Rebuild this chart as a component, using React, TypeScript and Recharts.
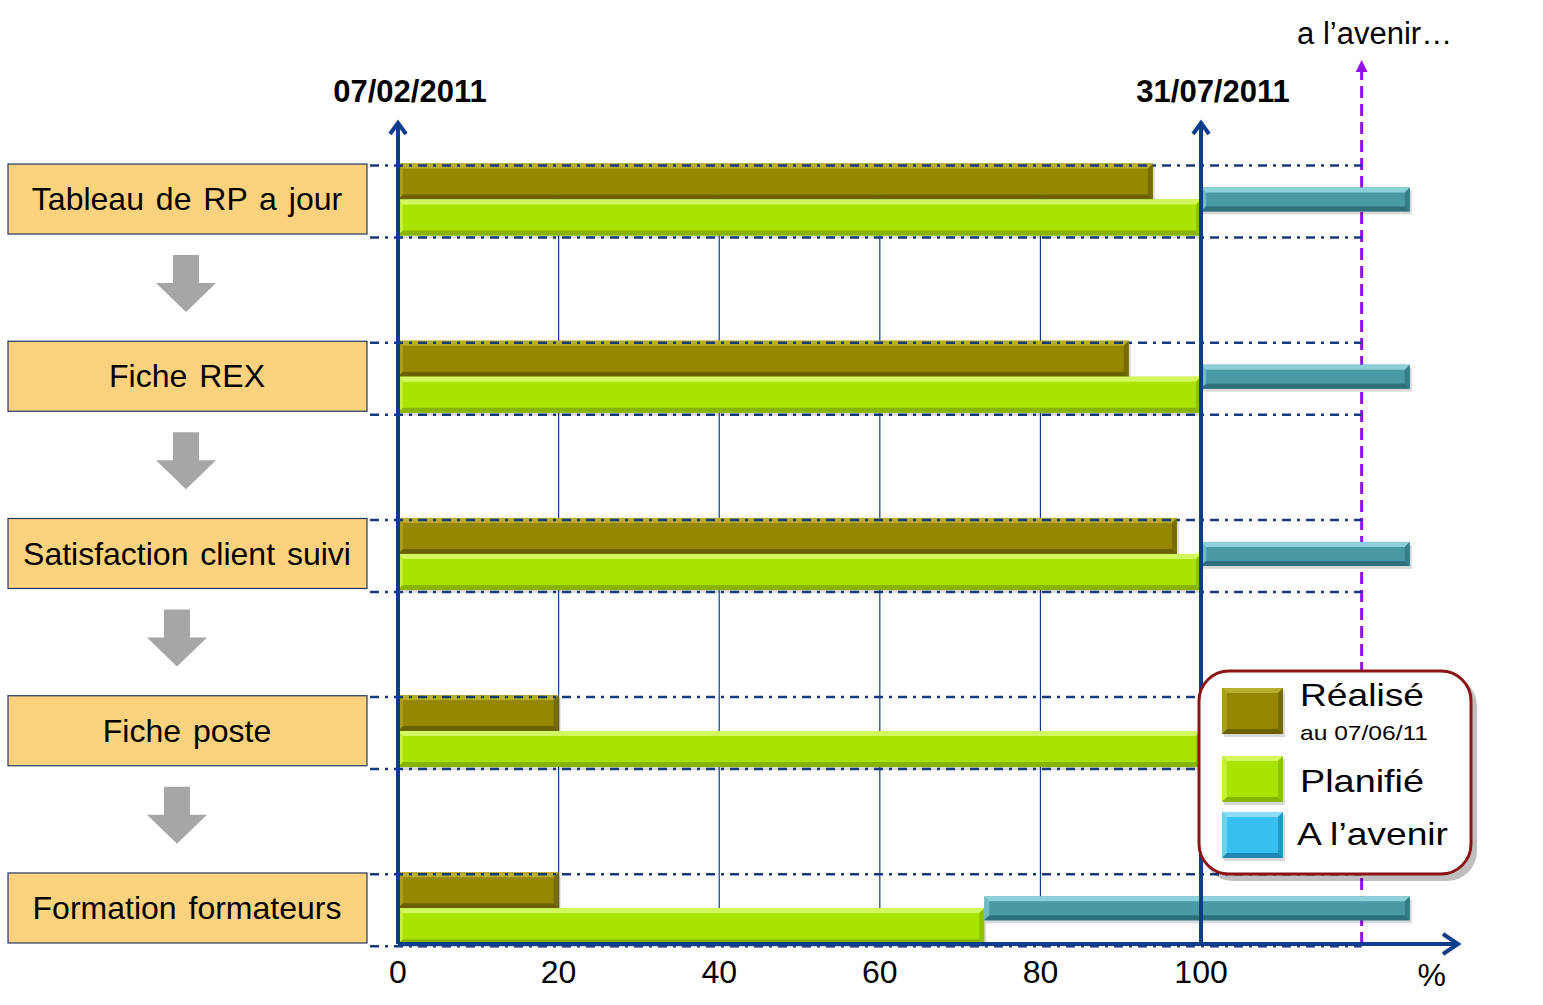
import React from 'react';
import { BarChart, Bar, XAxis, YAxis, ReferenceLine } from 'recharts';

const tasks = [
  'Tableau de RP a jour',
  'Fiche REX',
  'Satisfaction client suivi',
  'Fiche poste',
  'Formation formateurs',
];
const realise = [94, 91, 97, 20, 20]; // % done at 07/06/11
const planifie = [100, 100, 100, 100, 73];
const avenir = [26, 26, 26, 26, 53];

const xTicks = [0, 20, 40, 60, 80, 100];
const gridTicks = [20, 40, 60, 80];
const startDate = '07/02/2011';
const endDate = '31/07/2011';
const futureMark = 120;
const futureLabel = 'a l’avenir…';

const legendNames = ['Réalisé', 'Planifié', 'A l’avenir'];
const legendNote = 'au 07/06/11';

const FONT = '"Liberation Sans", Arial, sans-serif';
const AXIS = '#0F3D8E';
const DASH = '#17397C';
const PURPLE = '#9312F0';

const OLIVE = { face: '#958800', light: '#B9AD2E', dark: '#6A6100' };
const LIME = { face: '#A9E300', light: '#D2F760', dark: '#86B400' };
const TEAL = { face: '#4A9AA5', light: '#8CD0D9', dark: '#2E717C' };
const SKY = { face: '#37BFF0', light: '#8FDCF8', dark: '#1F86B5' };
const legendColors = [OLIVE, LIME, SKY];

const data = tasks.map((task, i) => ({
  task,
  realise: realise[i],
  planifie: planifie[i],
  avenir: avenir[i],
}));

function bevel(c: any, x: number, y: number, w: number, h: number) {
  if (!(w > 0) || !(h > 0)) return null;
  const b = Math.min(5, h / 4, w / 2);
  return (
    <g>
      <rect x={x + 2} y={y + 3} width={w} height={h} fill="rgba(0,0,0,0.15)" />
      <rect x={x} y={y} width={w} height={h} fill={c.face} />
      <polygon points={`${x},${y} ${x + w},${y} ${x + w - b},${y + b} ${x + b},${y + b}`} fill={c.light} />
      <polygon points={`${x},${y} ${x + b},${y + b} ${x + b},${y + h - b} ${x},${y + h}`} fill={c.light} opacity={0.6} />
      <polygon
        points={`${x},${y + h} ${x + w},${y + h} ${x + w - b},${y + h - b} ${x + b},${y + h - b}`}
        fill={c.dark}
      />
      <polygon
        points={`${x + w},${y} ${x + w},${y + h} ${x + w - b},${y + h - b} ${x + w - b},${y + b}`}
        fill={c.dark}
        opacity={0.7}
      />
    </g>
  );
}

// row guide lines run from a bit left of 0 up to the "future" mark
function rowLine(x: number, unit: number, y: number) {
  return (
    <line
      x1={x - 28}
      y1={y}
      x2={x + unit * futureMark}
      y2={y}
      stroke={DASH}
      strokeWidth={2.5}
      strokeDasharray="9 6 3 6"
    />
  );
}

const RealiseShape = (p: any) => {
  const { x, y, width, height, payload } = p;
  const unit = width / payload.realise;
  return (
    <g>
      {bevel(OLIVE, x, y, width, height)}
      {rowLine(x, unit, y + 2)}
    </g>
  );
};

const PlanifieShape = (p: any) => {
  const { x, y, width, height, payload } = p;
  const unit = width / payload.planifie;
  return (
    <g>
      {bevel(LIME, x, y, width, height)}
      {rowLine(x, unit, y + height + 2)}
    </g>
  );
};

const AvenirShape = (p: any) => {
  const { x, y, width, height } = p;
  return bevel(TEAL, x, y - height / 3, width, (height * 2) / 3);
};

const TaskTick = (p: any) => {
  const { y, payload, index } = p;
  const ax = index < 2 ? 186 : 177;
  const ay = y + 84;
  return (
    <g>
      <rect x={8} y={y - 35} width={359} height={70} fill="#FDD27F" stroke="#1F3864" strokeWidth={1.2} />
      <text x={187} y={y + 11} textAnchor="middle" fontSize={32} fill="#000" wordSpacing={3}>
        {payload.value}
      </text>
      {index < tasks.length - 1 && (
        <polygon
          points={`${ax - 13},${ay - 28} ${ax + 13},${ay - 28} ${ax + 13},${ay} ${ax + 30},${ay} ${ax},${ay + 29} ${ax - 30},${ay} ${ax - 13},${ay}`}
          fill="#A6A6A6"
        />
      )}
    </g>
  );
};

const dateAxis = (text: string) => (p: any) => {
  const top = Math.min(p.y1, p.y2);
  const bottom = Math.max(p.y1, p.y2);
  const x = p.x1;
  return (
    <g>
      <line x1={x} y1={top + 3} x2={x} y2={bottom} stroke={AXIS} strokeWidth={4} />
      <polyline
        points={`${x - 8},${top + 14} ${x},${top + 3} ${x + 8},${top + 14}`}
        fill="none"
        stroke={AXIS}
        strokeWidth={4}
      />
      <text x={x + 12} y={top - 18} textAnchor="middle" fontSize={31} fontWeight="bold" fill="#000">
        {text}
      </text>
    </g>
  );
};

const FutureLine = (p: any) => {
  const top = Math.min(p.y1, p.y2) - 60;
  const bottom = Math.max(p.y1, p.y2);
  const x = p.x1;
  return (
    <g>
      <line x1={x} y1={bottom} x2={x} y2={top + 10} stroke={PURPLE} strokeWidth={3} strokeDasharray="12 6" />
      <polygon points={`${x - 6},${top + 12} ${x},${top} ${x + 6},${top + 12}`} fill={PURPLE} />
      <text x={x + 13} y={top - 16} textAnchor="middle" fontSize={31} fill="#000">
        {futureLabel}
      </text>
    </g>
  );
};

function LegendBox() {
  const tops = [688, 756, 812];
  const labelY = [706, 792, 845];
  const labelX = [1300, 1300, 1297];
  const labelW = [124, 124, 151];
  return (
    <svg
      width={1543}
      height={1005}
      style={{ position: 'absolute', left: 0, top: 0, pointerEvents: 'none', fontFamily: FONT }}
    >
      <rect x={1203} y={676} width={274} height={205} rx={30} fill="rgba(0,0,0,0.25)" />
      <rect x={1199} y={671} width={272} height={203} rx={30} fill="#fff" stroke="#8C1414" strokeWidth={3} />
      {legendNames.map((name, i) => (
        <g key={name}>
          {bevel(legendColors[i], 1222, tops[i], 61, 46)}
          <text
            x={labelX[i]}
            y={labelY[i]}
            fontSize={32}
            fill="#000"
            textLength={labelW[i]}
            lengthAdjust="spacingAndGlyphs"
          >
            {name}
          </text>
        </g>
      ))}
      <text x={1300} y={740} fontSize={21} fill="#000" textLength={128} lengthAdjust="spacingAndGlyphs">
        {legendNote}
      </text>
    </svg>
  );
}

export default function App() {
  return (
    <div style={{ position: 'absolute', left: 0, top: 0, width: 1543, height: 1005, fontFamily: FONT, background: '#fff' }}>
      <BarChart
        width={1543}
        height={1005}
        data={data}
        layout="vertical"
        margin={{ top: 120, right: 85, bottom: 0, left: 0 }}
        barGap={0}
      >
        <defs>
          <marker
            id="xArrow"
            markerUnits="userSpaceOnUse"
            markerWidth={22}
            markerHeight={26}
            refX={18}
            refY={13}
            orient="auto"
          >
            <polyline points="3,3 18,13 3,23" fill="none" stroke={AXIS} strokeWidth={4} />
          </marker>
        </defs>
        <XAxis
          type="number"
          domain={[0, 132]}
          ticks={xTicks}
          interval={0}
          height={61}
          tickLine={false}
          tickMargin={10}
          tick={{ fill: '#000', fontSize: 32 }}
          axisLine={{ stroke: AXIS, strokeWidth: 4, markerEnd: 'url(#xArrow)' } as any}
          label={{ value: '%', position: 'insideRight', offset: 12, fontSize: 32, fill: '#000' }}
        />
        <YAxis
          type="category"
          dataKey="task"
          width={398}
          axisLine={false}
          tickLine={false}
          tick={<TaskTick />}
          interval={0}
          padding={{ top: -9.6, bottom: -52.6 } as any}
        />
        {gridTicks.map((t) => (
          <ReferenceLine
            key={t}
            segment={[
              { x: t, y: tasks[0] },
              { x: t, y: tasks[tasks.length - 1] },
            ]}
            stroke={AXIS}
            strokeWidth={1.2}
            ifOverflow="visible"
            {...({ zIndex: -100 } as any)}
          />
        ))}
        <ReferenceLine
          x={futureMark}
          ifOverflow="visible"
          shape={FutureLine}
          {...({ zIndex: -100 } as any)}
        />
        <Bar dataKey="realise" stackId="r" barSize={36} shape={RealiseShape} isAnimationActive={false} />
        <Bar dataKey="planifie" stackId="s" barSize={36} shape={PlanifieShape} isAnimationActive={false} />
        <Bar dataKey="avenir" stackId="s" barSize={36} shape={AvenirShape} isAnimationActive={false} />
        <ReferenceLine x={0} ifOverflow="visible" shape={dateAxis(startDate)} />
        <ReferenceLine x={100} ifOverflow="visible" shape={dateAxis(endDate)} />
      </BarChart>
      <LegendBox />
    </div>
  );
}
